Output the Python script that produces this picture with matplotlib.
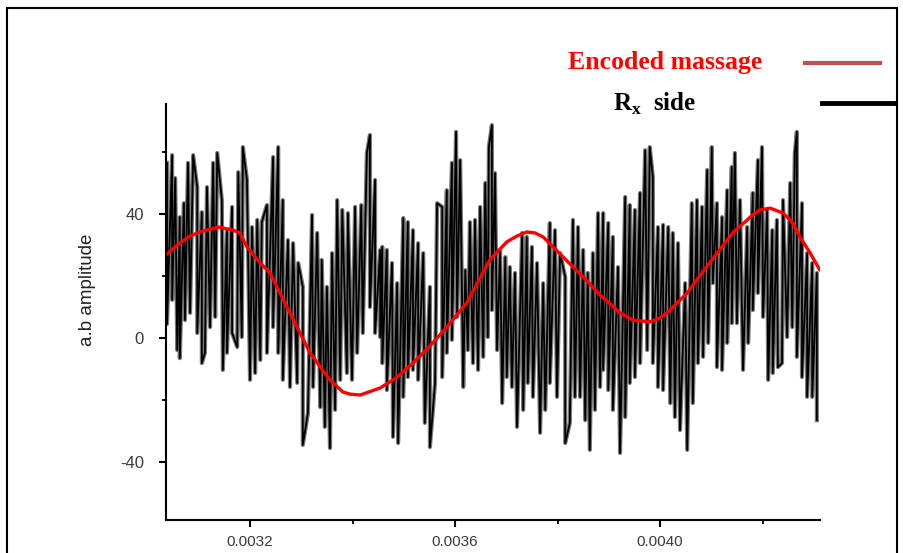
import numpy as np
import matplotlib.pyplot as plt
from matplotlib.ticker import MultipleLocator, FormatStrFormatter
from matplotlib.patches import Rectangle

plt.rcParams['mathtext.fontset'] = 'custom'
plt.rcParams['mathtext.rm'] = 'Liberation Serif'
plt.rcParams['mathtext.bf'] = 'Liberation Serif:bold'
plt.rcParams['axes.unicode_minus'] = False

# received signal, local maxima (time in microseconds, amplitude)
peak_t = [3038, 3048, 3054, 3063, 3071, 3079, 3089, 3097, 3106, 3116, 3128, 3136, 3145, 3155, 3165, 3177, 3186, 3194,
          3204, 3214, 3223, 3233,
          3245, 3255, 3264, 3274, 3284, 3294, 3303, 3321, 3331, 3340, 3350, 3360, 3370, 3380, 3391, 3405, 3417, 3428,
          3434, 3444, 3454,
          3458, 3467, 3477, 3487, 3499, 3508, 3518, 3528, 3538, 3551, 3565, 3575, 3584, 3594, 3602, 3610, 3620, 3629,
          3639, 3649, 3659, 3666,
          3672, 3678, 3688, 3698, 3707, 3717, 3731, 3740, 3750, 3760, 3772, 3785, 3795, 3805, 3815, 3830, 3840, 3850,
          3859, 3869, 3879,
          3889, 3899, 3908, 3918, 3932, 3941, 3951, 3961, 3971, 3980, 3986, 3996, 4006, 4016, 4025, 4035, 4049, 4062,
          4072, 4082, 4092,
          4101, 4111, 4121, 4131, 4140, 4146, 4156, 4170, 4181, 4191, 4199, 4209, 4219, 4228, 4240, 4254, 4263, 4267,
          4277, 4287, 4297, 4306]
peak_v = [56.5, 59.0, 51.6, 39.0, 43.5, 56.5, 59.0, 48.7, 40.6, 48.7, 56.5, 59.7, 44.5, 34.8, 42.3, 53.5, 61.6, 51.0,
          35.8, 38.1, 37.4, 42.9,
          58.4, 61.6, 44.5, 31.6, 30.6, 24.2, 16.5, 39.7, 33.9, 25.2, 16.5, 27.4, 44.5, 41.3, 40.3, 42.3, 42.9, 59.7,
          65.5, 51.0, 28.4,
          29.4, 28.4, 24.2, 17.7, 38.7, 37.4, 34.8, 30.6, 27.4, 16.5, 43.5, 42.3, 47.7, 56.5, 66.5, 57.4, 21.9, 37.4,
          38.1, 42.3, 50.0, 61.6,
          68.7, 53.2, 28.4, 26.1, 22.9, 21.0, 33.9, 32.6, 29.4, 24.2, 17.7, 37.1, 34.8, 27.4, 19.7, 38.1, 35.8, 28.4,
          21.0, 27.4, 40.3,
          40.3, 37.1, 32.6, 22.9, 45.5, 42.9, 41.3, 46.8, 60.6, 61.6, 51.9, 35.8, 36.5, 35.8, 33.9, 30.6, 17.7, 43.5,
          44.5, 42.3, 54.2,
          61.6, 43.5, 39.0, 47.7, 55.2, 59.7, 44.5, 35.8, 46.8, 57.4, 61.6, 41.3, 34.8, 38.1, 44.5, 50.0, 59.7, 66.5,
          43.5, 27.4, 24.2, 21.0]

# received signal, local minima
trough_t = [3038, 3048, 3058, 3063, 3073, 3083, 3097, 3106, 3112, 3122, 3132, 3147, 3155, 3165, 3175, 3184, 3200, 3210,
            3220, 3233,
            3245, 3255, 3264, 3278, 3292, 3303, 3313, 3323, 3337, 3346, 3356, 3366, 3376, 3389, 3399, 3409, 3420, 3434,
            3444, 3454,
            3458, 3467, 3479, 3489, 3499, 3508, 3518, 3528, 3541, 3551, 3561, 3575, 3584, 3594, 3604, 3616, 3625, 3635,
            3645, 3655, 3664,
            3672, 3682, 3692, 3701, 3711, 3721, 3733, 3742, 3752, 3766, 3776, 3785, 3799, 3815, 3824, 3834, 3844, 3854,
            3863, 3873, 3883,
            3889, 3899, 3908, 3922, 3932, 3941, 3951, 3961, 3975, 3986, 3996, 4006, 4020, 4029, 4039, 4053, 4064, 4074,
            4084, 4094,
            4103, 4111, 4121, 4131, 4140, 4150, 4162, 4172, 4181, 4191, 4201, 4211, 4220, 4230, 4238, 4248, 4258, 4267,
            4277, 4287, 4297, 4306]
trough_v = [4.5, 12.3, -3.9, -6.5, 5.8, 8.1, 1.6, -8.1, -4.8, 3.5, 6.8, -10.3, -4.8, 1.6, -2.9, 0.3, -13.5, -11.3,
            -7.1, -4.8,
            3.5, -4.8, -13.5, -15.8, -14.5, -34.5, -24.2, -15.8, -22.3, -28.7, -35.5, -23.2, -13.5, -11.3, -13.5, -4.8,
            1.6, 10.0, 1.6, 0.3,
            -8.1, -16.8, -31.9, -33.9, -19.0, -12.6, -10.3, -13.5, -27.4, -35.2, -14.5, -12.6, -4.8, -0.6, 6.8, -15.8,
            -3.9, -8.1, -10.3, -6.1, 0.3,
            9.0, -3.9, -21.0, -12.6, -15.8, -28.7, -23.2, -14.5, -19.0, -30.6, -23.2, -14.5, -19.0, -33.9, -27.4, -19.0,
            -19.0, -26.5, -36.1, -23.2, -15.8,
            -10.3, -16.8, -23.2, -37.1, -25.5, -14.5, -12.6, -8.1, -3.9, -8.1, -15.8, -16.8, -21.0, -25.5, -29.7, -36.1,
            -21.0, -8.1, -6.1, -1.6,
            17.7, -9.4, -10.3, -1.6, 4.8, 4.8, -10.3, -1.6, 9.0, 14.5, 6.8, -13.5, -11.3, -9.4, -8.1, 0.3, 3.5, -6.1,
            -12.6, -19.0, -19.0, -26.5]

# encoded message (red curve)
msg_t = [3036, 3063, 3083, 3102, 3138, 3167, 3180, 3194, 3220, 3239, 3278, 3317, 3356, 3381, 3395, 3415, 3454, 3485,
         3518, 3551, 3584, 3623, 3668, 3701, 3721, 3740, 3756, 3772, 3811, 3850, 3883, 3922, 3947, 3980, 4000, 4014,
         4053, 4098, 4142, 4181, 4195, 4215, 4240, 4258, 4273, 4293, 4312]
msg_v = [26.8, 30.6, 32.9, 34.2, 35.8, 34.8, 33.9, 29.4, 24.2, 21.0, 8.1, -4.8, -13.5, -17.4, -18.1, -18.4, -16.1, -12.9,
         -8.1, -2.6, 3.5, 11.3, 25.2, 31.0, 32.9, 34.2, 33.9, 32.6, 26.1, 19.7, 13.9, 8.1, 5.8, 5.2, 6.5, 8.1,
         14.5, 24.5, 33.9, 39.7, 41.3, 41.9, 40.3, 37.4, 32.6, 27.4, 21.9]

# merge extrema into one zig-zag trace
rx_t = np.concatenate([peak_t, trough_t]) * 1e-6
rx_v = np.concatenate([peak_v, trough_v])
order = np.argsort(rx_t, kind='stable')
rx_t, rx_v = rx_t[order], rx_v[order]

fig = plt.figure(figsize=(9.04, 5.53), dpi=100)
ax = fig.add_axes([0.1836, 0.0597, 0.7234, 0.7523])

# grey halo + black core, like the thick scanned trace
ax.plot(rx_t, rx_v, color='#7a7a7a', lw=3.0)
ax.plot(rx_t, rx_v, color='#000000', lw=1.3)
ax.plot(np.array(msg_t) * 1e-6, msg_v, color='#ff0000', lw=2.4, solid_capstyle='round', solid_joinstyle='round')

ax.set_xlim(0.003036, 0.004312)
ax.set_ylim(-58.7, 75.5)

ax.xaxis.set_major_locator(MultipleLocator(0.0004))
ax.xaxis.set_minor_locator(MultipleLocator(0.0002))
ax.xaxis.set_major_formatter(FormatStrFormatter('%.4f'))
ax.yaxis.set_major_locator(MultipleLocator(40))
ax.yaxis.set_minor_locator(MultipleLocator(20))

for s in ['top', 'right']:
    ax.spines[s].set_visible(False)
for s in ['left', 'bottom']:
    ax.spines[s].set_linewidth(1.5)
ax.tick_params(which='major', direction='out', length=5, width=1.5, labelsize=11, labelcolor='#3a3a3a')
ax.tick_params(which='minor', direction='out', length=3, width=1.3)
ax.tick_params(axis='x', which='major', pad=6)
ax.tick_params(axis='y', which='major', pad=11, labelsize=12)
for lab in ax.get_xticklabels() + ax.get_yticklabels():
    lab.set_family('Liberation Sans')

fig.text(88 / 904, 1 - 290 / 553, 'a.b amplitude', rotation=90, ha='center', va='center',
         fontsize=13.5, family='Liberation Sans', color='#222222')

# legend drawn by hand
fig.text(665 / 904, 1 - 63 / 553, 'Encoded massage', color='#ff0000', fontsize=18.5, fontweight='bold',
         family='Liberation Serif', ha='center', va='center')
fig.add_artist(plt.Line2D([805 / 904, 880 / 904], [1 - 63 / 553, 1 - 63 / 553], color='#c0504d', lw=3))
fig.text(655 / 904, 1 - 104 / 553, r'$\mathbf{R}_{\mathbf{x}}$  side', color='black', fontsize=18,
         fontweight='bold', family='Liberation Serif', ha='center', va='center')
fig.add_artist(plt.Line2D([822 / 904, 895 / 904], [1 - 103 / 553, 1 - 103 / 553], color='black', lw=3.5))

# outer frame
fig.add_artist(Rectangle((7 / 904, -0.05), 890 / 904, 1.05 - 8 / 553, fill=False, ec='black', lw=1.5,
                         transform=fig.transFigure))

fig.savefig('out.png', dpi=100)
